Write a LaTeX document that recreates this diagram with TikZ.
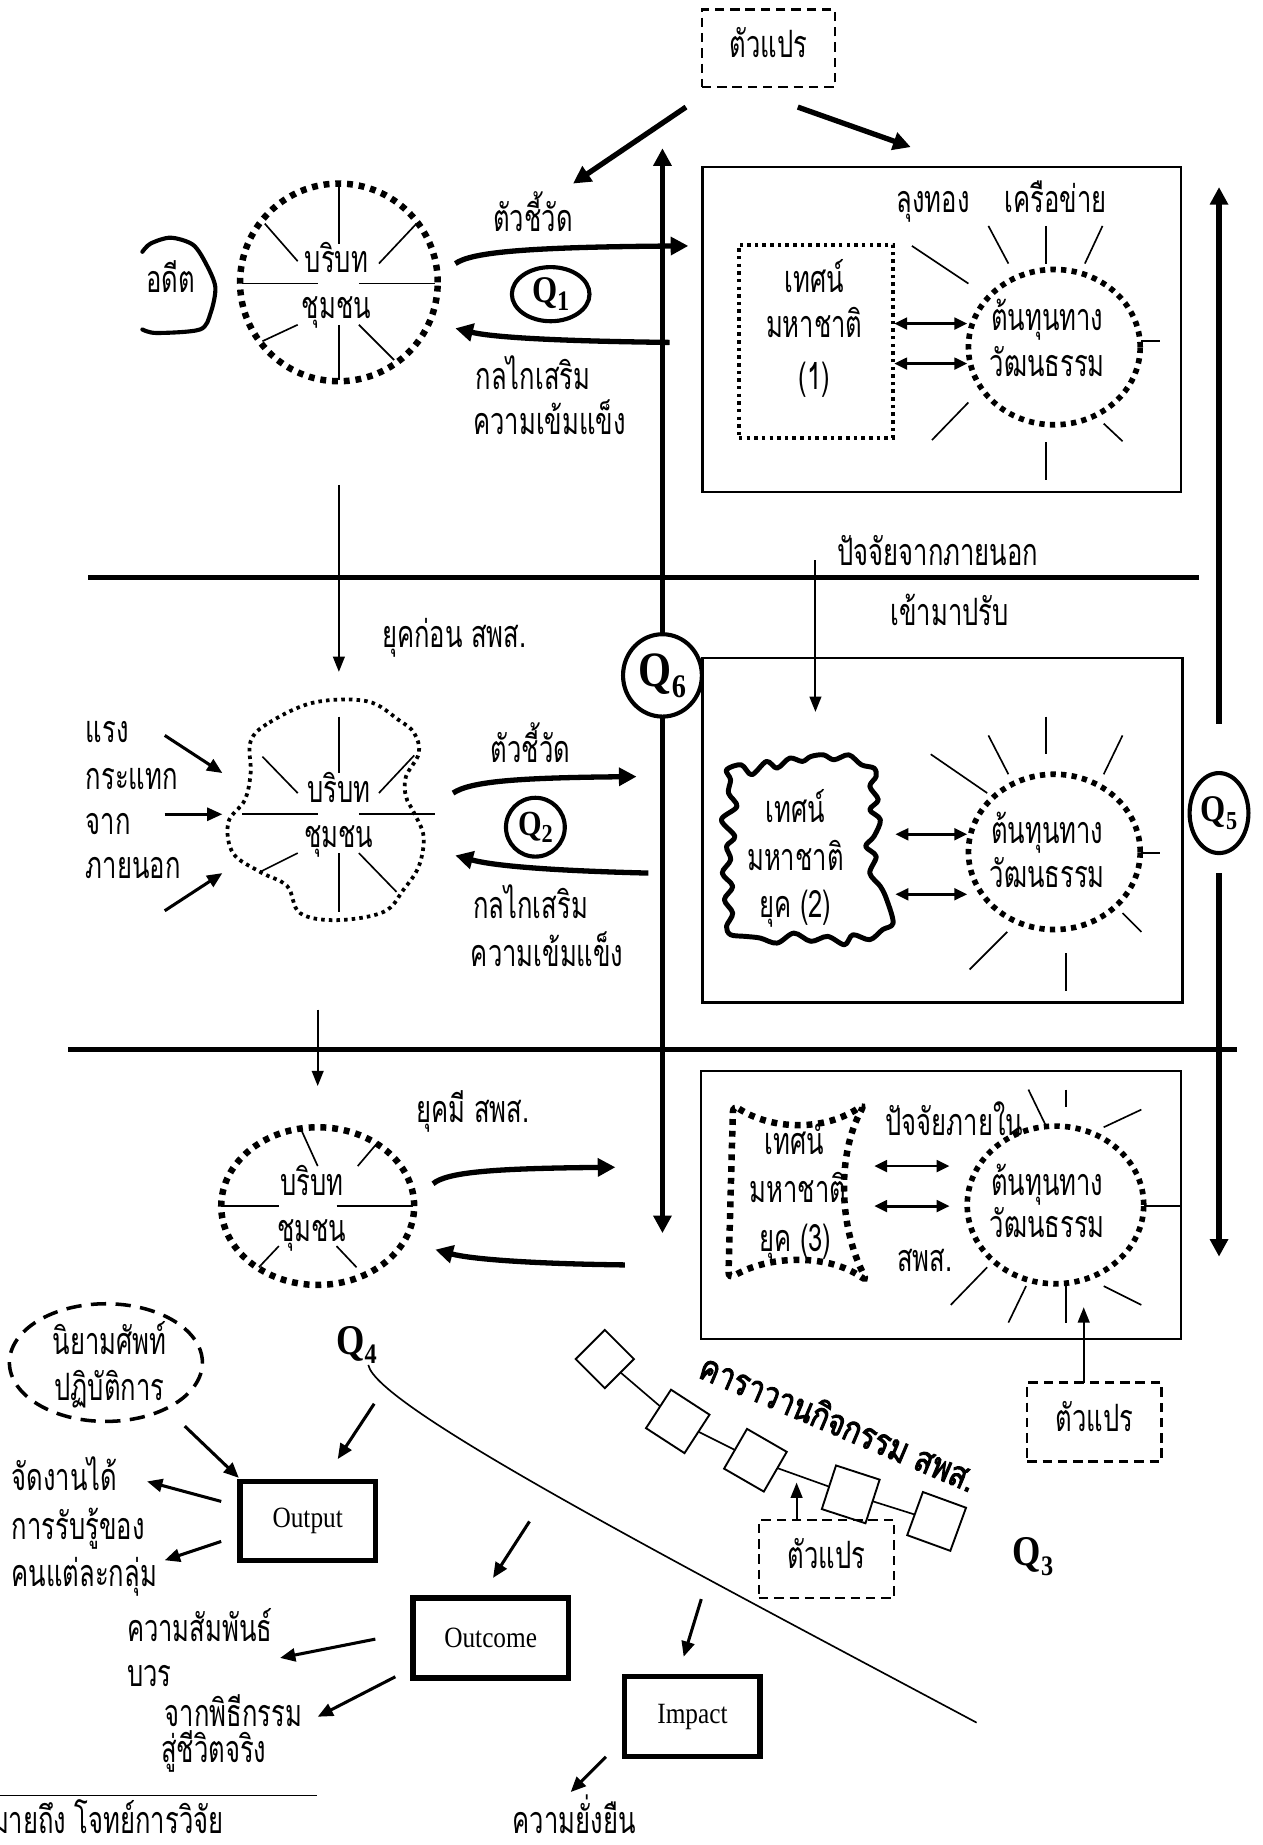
\documentclass[tikz,border=0pt]{standalone}
\usepackage{fontspec}
\setmainfont{Liberation Serif}
\newfontfamily\thaifnt[Script=Thai,FakeStretch=0.68]{Loma}
\newfontfamily\cvfont[Script=Thai,FakeStretch=0.8,FakeBold=2.5]{Loma}
\newfontfamily\latfnt[FakeStretch=0.86]{Liberation Serif}
\usetikzlibrary{arrows.meta,shapes.geometric,decorations.pathmorphing}
\newcommand\thtxt{\thaifnt\fontsize{32}{34}\selectfont}
\newcommand\qlab[3]{{\latfnt\bfseries\fontsize{#1}{#1}\selectfont Q\raisebox{-0.22em}{\fontsize{#2}{#2}\selectfont #3}}}
\begin{document}
\begin{tikzpicture}[x=1pt,y=-1pt,
  every node/.style={inner sep=0pt,outer sep=0pt},
  th/.style={font=\thtxt,text height=20pt,text depth=4pt},
  thickln/.style={line width=4.5pt},
  bigarr/.style={line width=4.5pt,-{Triangle[length=15pt,width=15pt]}},
  midarr/.style={line width=2.6pt,-{Triangle[length=13pt,width=11pt]}},
  thinarr/.style={line width=1.6pt,-{Triangle[length=13pt,width=10pt]}},
  dblarr/.style={line width=2.4pt,{Triangle[length=11pt,width=10pt]}-{Triangle[length=11pt,width=10pt]}},
  ray/.style={line width=1.4pt},
  bigdots/.style={line width=5.5pt,dash pattern=on 5pt off 5pt},
  meddots/.style={line width=4.8pt,dash pattern=on 4.5pt off 4.5pt},
  smalldots/.style={line width=3.2pt,dash pattern=on 3pt off 3.5pt},
  dashbox/.style={draw,line width=2pt,dash pattern=on 8pt off 5pt},
  frame/.style={draw,line width=1.8pt},
  resbox/.style={draw,line width=4.5pt,font=\latfnt\fontsize{25}{27}\selectfont},
  qcirc/.style={draw,ellipse,line width=3.5pt},
  sq/.style={draw,fill=white,line width=1.6pt,minimum size=39pt}
]
\useasboundingbox (0,0) rectangle (1073,1568);
\clip (0,0) rectangle (1073,1568);

% ---------- top variable box
\node[dashbox,th,minimum width=113,minimum height=66] (var1) at (653,41) {ตัวแปร};
\coordinate (a1s) at (583,91); \coordinate (a1e) at (487,156);
\coordinate (a2s) at (678,91); \coordinate (a2e) at (774,125);
\draw[bigarr] (a1s) -- (a1e);
\draw[bigarr] (a2s) -- (a2e);

% ---------- frames
\node[frame,minimum width=407,minimum height=276] (box1) at (800.5,280) {};
\node[frame,minimum width=408,minimum height=293] (box2) at (801,705.5) {};
\node[frame,minimum width=408,minimum height=228] (box3) at (800,1024) {};

% ---------- dividers
\draw[thickln] (75,491) -- (1019,491);
\draw[thickln] (58,892) -- (1051,892);

% ---------- Q6 axis
\node[qcirc,minimum width=67,minimum height=70] (q6) at (563,574) {\qlab{42}{28}{6}};
\coordinate (q6top) at (563,126); \coordinate (q6bot) at (563,1048);
\draw[bigarr] (q6.north) -- (q6top);
\draw[bigarr] (q6.south) -- (q6bot);

% ---------- Q5 axis
\node[qcirc,minimum width=50,minimum height=68] (q5) at (1036,691) {\qlab{32}{22}{5}};
\coordinate (q5a) at (1036,615); \coordinate (q5top) at (1036,159);
\coordinate (q5b) at (1036,742); \coordinate (q5bot) at (1036,1068);
\draw[bigarr] (q5a) -- (q5top);
\draw[bigarr] (q5b) -- (q5bot);

% ================= SECTION 1
\draw[line width=3.5pt,line cap=round] plot[smooth] coordinates {(121,214) (128,207) (145,202) (164,208) (175,224) (183,244) (179,266) (170,280) (133,283) (121,280)};
\node[th] (past) at (145,241) {อดีต};

\node[ellipse,draw,bigdots,minimum width=168,minimum height=168] (c1) at (288,240) {};
\draw[ray] (288,159) -- (288,207); \draw[ray] (225,190) -- (253,222);
\draw[ray] (354,190) -- (322,224); \draw[ray] (206,241) -- (270,241);
\draw[ray] (305,241) -- (370,241); \draw[ray] (253,276) -- (223,290);
\draw[ray] (288,276) -- (288,323); \draw[ray] (305,276) -- (335,306);
\node[th] (c1a) at (286,224) {บริบท};
\node[th] (c1b) at (286,263) {ชุมชน};

\coordinate (r1s) at (387,224); \coordinate (r1e) at (585,209);
\draw[bigarr] (r1s) .. controls (400,215) and (440,210) .. (r1e);
\coordinate (l1s) at (569,291); \coordinate (l1e) at (387,279);
\draw[bigarr] (l1s) .. controls (480,290) and (420,287) .. (l1e);
\node[th] (ind1) at (453,189) {ตัวชี้วัด};
\node[qcirc,minimum width=66,minimum height=46] (q1) at (468,250) {\qlab{32}{24}{1}};
\node[th] (mech1a) at (453,323) {กลไกเสริม};
\node[th] (mech1b) at (467,361) {ความเข้มแข็ง};

\node[draw,smalldots,minimum width=131,minimum height=164] (tes1) at (693.5,290) {};
\node[th] at (692,241) {เทศน์};
\node[th] at (692,279) {มหาชาติ};
\node[th] at (692,323) {(1)};
\node[ellipse,draw,meddots,minimum width=146,minimum height=132] (cc1) at (896,295) {};
\node[th] at (890,273) {ต้นทุนทาง};
\node[th] at (890,312) {วัฒนธรรม};
\draw[dblarr] (760,275) -- (822,275);
\draw[dblarr] (760,309) -- (822,309);
\draw[ray] (775,209) -- (823,241); \draw[ray] (840,192) -- (857,224);
\draw[ray] (889,192) -- (889,224); \draw[ray] (937,192) -- (922,224);
\draw[ray] (970,290) -- (986,290); \draw[ray] (823,342) -- (792,374);
\draw[ray] (938,360) -- (954,375); \draw[ray] (889,376) -- (889,408);
\node[th] at (793,173) {ลุงทอง};
\node[th] at (897,173) {เครือข่าย};

% ================= SECTION 2
\coordinate (d2s) at (288,412); \coordinate (d2e) at (288,571);
\draw[thinarr] (d2s) -- (d2e);
\node[th] at (386,542) {ยุคก่อน สพส.};
\draw[smalldots] plot[smooth cycle,tension=0.6] coordinates {(213,630) (229,614) (267,597) (312,596) (339,612) (352,623) (356,640) (345,660) (345,677) (352,691) (360,711) (356,736) (343,756) (326,775) (286,782) (255,776) (244,753) (221,741) (198,725) (194,699) (208,680) (213,657)};
\draw[ray] (288,609) -- (288,657); \draw[ray] (223,643) -- (253,674);
\draw[ray] (352,642) -- (322,674); \draw[ray] (206,692) -- (270,692);
\draw[ray] (305,692) -- (370,692); \draw[ray] (253,725) -- (221,741);
\draw[ray] (288,725) -- (288,775); \draw[ray] (305,725) -- (337,758);
\node[th] at (288,674) {บริบท};
\node[th] at (288,712) {ชุมชน};
\node[th,anchor=west] at (73,623) {แรง};
\node[th,anchor=west] at (73,663) {กระแทก};
\node[th,anchor=west] at (73,701) {จาก};
\node[th,anchor=west] at (73,739) {ภายนอก};
\draw[midarr] (140,625) -- (189,657);
\draw[midarr] (140,692) -- (189,692);
\draw[midarr] (140,774) -- (189,742);
\draw[bigarr] (385,674) .. controls (400,664) and (440,661) .. (541,660);
\draw[bigarr] (551,742) .. controls (470,740) and (420,736) .. (387,727);
\node[th] at (451,640) {ตัวชี้วัด};
\node[qcirc,minimum width=50,minimum height=50] (q2) at (455,703) {\qlab{30}{22}{2}};
\node[th] at (451,773) {กลไกเสริม};
\node[th] at (465,813) {ความเข้มแข็ง};

\node[th] at (797,473) {ปัจจัยจากภายนอก};
\node[th] at (807,524) {เข้ามาปรับ};
\draw[thinarr] (693,476) -- (693,605);
\draw[line width=4.2pt,line join=round] plot[smooth cycle,tension=0.55] coordinates {
 (617.4,654.2) (629.9,650.0) (638.9,658.4) (651.4,647.1) (660.4,652.8) (671.1,644.3) (681.9,647.1) (689.1,642.9) (699.8,641.5) (708.8,645.7) (721.3,641.5) (732.1,650.0) (742.8,652.8) (744.6,659.9)
 (739.2,668.4) (746.4,679.7) (739.2,688.2) (748.2,696.7) (742.8,710.8) (735.7,719.3) (744.6,727.8) (739.2,742.0) (748.2,753.3) (753.6,764.6) (759.0,784.5)
 (750.0,790.1) (739.2,798.6) (724.9,794.4) (717.7,802.9) (703.4,795.8) (689.1,800.0) (674.7,793.0) (660.4,801.5) (646.0,797.2) (633.5,795.8) (620.9,794.4)
 (617.4,787.3) (622.7,776.0) (615.6,764.6) (622.7,753.3) (613.8,742.0) (621.0,730.7) (617.4,719.3) (624.5,710.8) (613.1,696.7) (626.3,685.4) (619.1,674.0) (620.9,662.7)};
\node[th] at (676,691) {เทศน์};
\node[th] at (676,732) {มหาชาติ};
\node[th] at (676,772) {ยุค (2)};
\draw[dblarr] (761,709) -- (822,709);
\draw[dblarr] (761,760) -- (822,760);
\node[ellipse,draw,meddots,minimum width=146,minimum height=132] (cc2) at (896,724) {};
\node[th] at (890,709) {ต้นทุนทาง};
\node[th] at (890,746) {วัฒนธรรม};
\draw[ray] (791,641) -- (839,674); \draw[ray] (840,625) -- (857,658);
\draw[ray] (889,609) -- (889,641); \draw[ray] (954,625) -- (938,658);
\draw[ray] (970,725) -- (986,725); \draw[ray] (856,792) -- (824,824);
\draw[ray] (954,776) -- (970,792); \draw[ray] (906,810) -- (906,842);

% ================= SECTION 3
\draw[thinarr] (270,858) -- (270,923);
\node[th] at (402,946) {ยุคมี สพส.};
\node[ellipse,draw,bigdots,minimum width=164,minimum height=134] (c3) at (270,1025) {};
\draw[ray] (255,958) -- (270,991); \draw[ray] (321,971) -- (304,991);
\draw[ray] (188,1025) -- (237,1025); \draw[ray] (286,1025) -- (351,1025);
\draw[ray] (237,1059) -- (220,1077); \draw[ray] (286,1059) -- (303,1077);
\node[th] at (265,1008) {บริบท};
\node[th] at (265,1047) {ชุมชน};
\draw[bigarr] (368,1006) .. controls (380,996) and (420,993) .. (523,992);
\draw[bigarr] (531,1075) .. controls (450,1074) and (400,1070) .. (370,1062);

\draw[bigdots,rounded corners=6pt] (623,939) .. controls (655,960) and (700,962) .. (735,938) .. controls (712,980) and (712,1040) .. (737,1089) .. controls (705,1066) and (655,1066) .. (619,1087) -- cycle;
\node[th] at (675,973) {เทศน์};
\node[th] at (678,1014) {มหาชาติ};
\node[th] at (676,1056) {ยุค (3)};
\node[th] at (811,957) {ปัจจัยภายใน};
\node[th] at (786,1073) {สพส.};
\draw[dblarr] (743,991) -- (807,991);
\draw[dblarr] (743,1025) -- (807,1025);
\node[ellipse,draw,meddots,minimum width=150,minimum height=134] (cc3) at (897,1024) {};
\node[th] at (890,1008) {ต้นทุนทาง};
\node[th] at (890,1044) {วัฒนธรรม};
\draw[ray] (874,926) -- (889,957); \draw[ray] (906,926) -- (906,941);
\draw[ray] (970,943) -- (938,958); \draw[ray] (972,1025) -- (1003,1025);
\draw[ray] (839,1077) -- (808,1109); \draw[ray] (872,1093) -- (857,1124);
\draw[ray] (906,1090) -- (906,1124); \draw[ray] (938,1093) -- (970,1109);
\node[dashbox,th,minimum width=114,minimum height=67] (var3) at (930,1208.5) {ตัวแปร};
\coordinate (v3s) at (921,1175); \coordinate (v3e) at (921,1111);
\draw[thinarr] (v3s) -- (v3e);

% ================= BOTTOM
\node[ellipse,draw,line width=3pt,dash pattern=on 13pt off 8pt,minimum width=164,minimum height=100] (nyam) at (90,1158) {};
\node[th] at (93,1143) {นิยามศัพท์};
\node[th] at (93,1182) {ปฏิบัติการ};
\node (q4) at (303,1143) {\qlab{36}{24}{4}};
\draw[line width=1.4pt] (313,1160) .. controls (320,1195) and (560,1320) .. (830,1464);

\node[resbox,minimum width=115,minimum height=67] (out) at (261.5,1292.5) {Output};
\node[resbox,minimum width=132,minimum height=68] (outc) at (417,1392) {Outcome};
\node[resbox,minimum width=115,minimum height=68] (imp) at (588.5,1459) {Impact};

\draw[midarr] (318,1193) -- (287,1240);
\draw[midarr] (157,1212) -- (203,1256);
\draw[midarr] (188,1276) -- (125,1259);
\draw[midarr] (188,1310) -- (140,1326);
\node[th,anchor=west] at (10,1259) {จัดงานได้};
\node[th,anchor=west] at (10,1300) {การรับรู้ของ};
\node[th,anchor=west] at (10,1340) {คนแต่ละกลุ่ม};
\draw[midarr] (450,1293) -- (419,1341);
\draw[midarr] (319,1393) -- (238,1409);
\draw[midarr] (336,1425) -- (270,1459);
\node[th,anchor=west] at (108,1387) {ความสัมพันธ์};
\node[th,anchor=west] at (108,1425) {บวร};
\node[th,anchor=west] at (140,1459) {จากพิธีกรรม};
\node[th,anchor=west] at (137,1490) {สู่ชีวิตจริง};
\draw[midarr] (596,1359) -- (581,1408);
\draw[midarr] (515,1493) -- (485,1523);
\node[th] at (488,1550) {ความยั่งยืน};
\draw[line width=1.5pt] (0,1526) -- (269,1526);
\node[th,anchor=east] at (190,1550) {หมายถึง โจทย์การวิจัย};

% caravan
\node[sq,minimum size=35pt,rotate=45] (s1) at (514,1155) {};
\node[sq,rotate=-33] (s2) at (576,1208) {};
\node[sq,rotate=-30] (s3) at (642,1241) {};
\node[sq,rotate=-18] (s4) at (723,1270) {};
\node[sq,rotate=-20] (s5) at (796,1293) {};
\draw[ray] (s1) -- (s2); \draw[ray] (s2) -- (s3);
\draw[ray] (s3) -- (s4); \draw[ray] (s4) -- (s5);
\node[rotate=-23,font=\cvfont\fontsize{31}{33}\selectfont] (cvt) at (713,1208) {คาราวานกิจกรรม สพส.};
\node[dashbox,th,minimum width=115,minimum height=66] (var2) at (702.5,1325) {ตัวแปร};
\coordinate (v2s) at (677,1292); \coordinate (v2e) at (677,1260);
\draw[thinarr] (v2s) -- (v2e);
\node (q3) at (878,1323) {\qlab{36}{24}{3}};
\end{tikzpicture}
\end{document}
